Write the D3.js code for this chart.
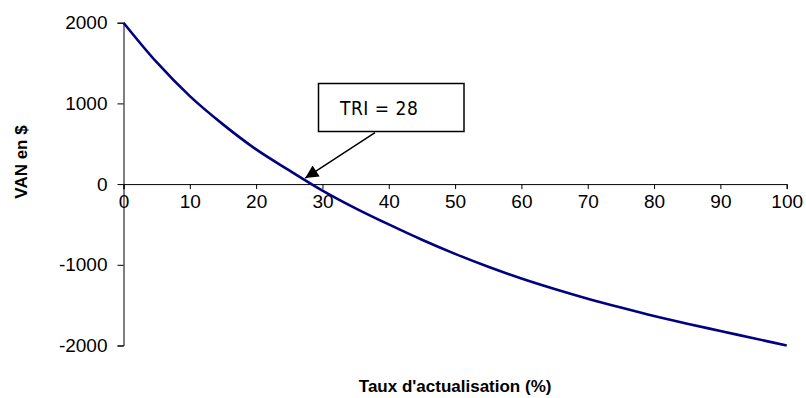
<!DOCTYPE html>
<html>
<head>
<meta charset="utf-8">
<script src="https://cdn.jsdelivr.net/npm/d3@7"></script>
<style>
  html, body { margin: 0; padding: 0; background: #fff; }
  svg { display: block; font-family: Arial, "Liberation Sans", sans-serif; }
</style>
</head>
<body>
<svg id="chart" width="806" height="398"></svg>
<script>
// Taux d'actualisation (%) et VAN correspondante ($)
const rates = [0, 5, 10, 15, 20, 25, 30, 35, 40, 45, 50, 55, 60, 65, 70, 75, 80, 85, 90, 95, 100];
const npv = [2000, 1510, 1090, 740, 430, 170, -80, -300, -500, -690, -865, -1025, -1170, -1300, -1420, -1530, -1635, -1730, -1820, -1910, -2000];
const xTicks = [0, 10, 20, 30, 40, 50, 60, 70, 80, 90, 100];
const yTicks = [-2000, -1000, 0, 1000, 2000];
const irr = 28;
const irrLabel = "TRI = " + irr;

const svg = d3.select("#chart");

const x = d3.scaleLinear().domain([0, 100]).range([123.5, 786.7]);
const y = d3.scaleLinear().domain([-2000, 2000]).range([345.5, 22.7]);

// Axe vertical (trait d'union simple pour les valeurs négatives)
const yAxis = svg.append("g")
  .attr("transform", `translate(${x(0)},0)`)
  .call(d3.axisLeft(y).tickValues(yTicks).tickSize(6).tickPadding(10).tickFormat(d => String(d)));
yAxis.select(".domain").attr("stroke", "#000").attr("stroke-width", 1);
yAxis.selectAll(".tick line").attr("stroke", "#000");
yAxis.selectAll("text").attr("font-size", 19).attr("fill", "#000")
  .attr("font-family", "Arial, 'Liberation Sans', sans-serif");

// Axe horizontal au niveau VAN = 0
const xAxis = svg.append("g")
  .attr("transform", `translate(0,${y(0)})`)
  .call(d3.axisBottom(x).tickValues(xTicks).tickSize(5).tickSizeOuter(5).tickPadding(5).tickFormat(d => String(d)));
xAxis.select(".domain").attr("stroke", "#000").attr("stroke-width", 1);
xAxis.selectAll(".tick line").attr("stroke", "#000");
xAxis.selectAll("text").attr("font-size", 19).attr("fill", "#000")
  .attr("font-family", "Arial, 'Liberation Sans', sans-serif");

// Courbe de la VAN
const line = d3.line()
  .x((d, i) => x(rates[i]))
  .y(d => y(d))
  .curve(d3.curveMonotoneX);

svg.append("path")
  .datum(npv)
  .attr("fill", "none")
  .attr("stroke", "#000080")
  .attr("stroke-width", 2.6)
  .attr("d", line);

// Titres des axes
svg.append("text")
  .attr("transform", `translate(27,${162}) rotate(-90)`)
  .attr("text-anchor", "middle")
  .attr("font-weight", "bold")
  .attr("font-size", 17)
  .text("VAN en $");

svg.append("text")
  .attr("x", (x(0) + x(100)) / 2)
  .attr("y", 392)
  .attr("text-anchor", "middle")
  .attr("font-weight", "bold")
  .attr("font-size", 17)
  .text("Taux d'actualisation (%)");

// Étiquette du TRI avec flèche
svg.append("defs").append("marker")
  .attr("id", "arrow")
  .attr("viewBox", "0 0 10 10")
  .attr("refX", 10).attr("refY", 5)
  .attr("markerWidth", 16).attr("markerHeight", 13)
  .attr("markerUnits", "userSpaceOnUse")
  .attr("orient", "auto")
  .append("path")
  .attr("d", "M0,0 L10,5 L0,10 Z")
  .attr("fill", "#000");

const tipX = x(irr) - 4, tipY = y(0) - 6;
svg.append("line")
  .attr("x1", 375).attr("y1", 132.7)
  .attr("x2", tipX).attr("y2", tipY)
  .attr("stroke", "#000").attr("stroke-width", 1.5)
  .attr("marker-end", "url(#arrow)");

svg.append("rect")
  .attr("x", 318.5).attr("y", 83.5)
  .attr("width", 145.5).attr("height", 48)
  .attr("fill", "#fff")
  .attr("stroke", "#000").attr("stroke-width", 1.5);

svg.append("text")
  .attr("x", 340).attr("y", 115)
  .attr("font-size", 19)
  .attr("font-family", "'DejaVu Sans Condensed', 'Liberation Sans Narrow', sans-serif")
  .attr("letter-spacing", 0.5)
  .attr("xml:space", "preserve")
  .text(irrLabel);
</script>
</body>
</html>
